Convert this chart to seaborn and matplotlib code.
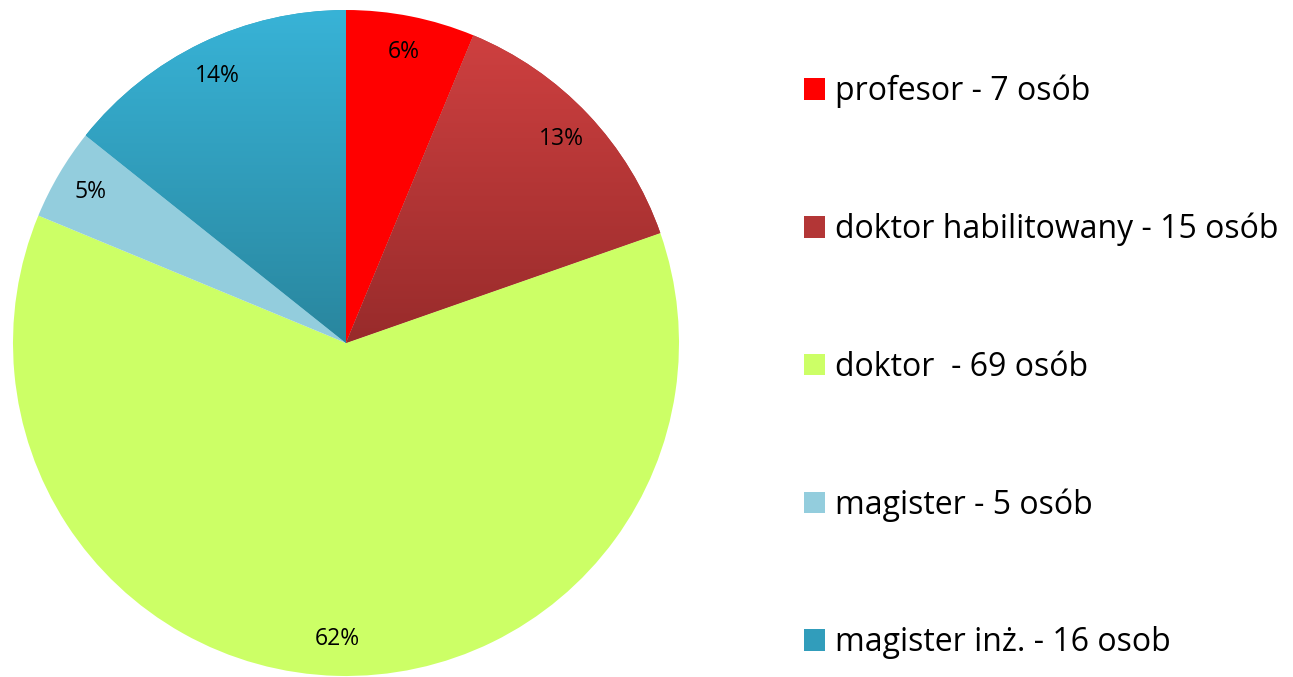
import numpy as np
import matplotlib
matplotlib.use("Agg")
import matplotlib.pyplot as plt
import seaborn as sns
from matplotlib.patches import Patch
from matplotlib.colors import to_rgb

categories = ["profesor - 7 osób", "doktor habilitowany - 15 osób", "doktor  - 69 osób",
              "magister - 5 osób", "magister inż. - 16 osob"]
counts = [7, 15, 69, 5, 16]
top_colors = ["#FF0000", "#CE4040", "#CCFF66", "#93CDDD", "#38B3D7"]
bottom_colors = ["#FF0000", "#982B2B", "#CCFF66", "#93CDDD", "#29869E"]

sns.set_theme(style="white")
plt.rcParams["font.family"] = ["Open Sans", "DejaVu Sans"]
plt.rcParams["text.color"] = "black"

# largest-remainder rounding so that percentages sum to 100
raw = np.array(counts, dtype=float) / sum(counts) * 100
pcts = np.floor(raw).astype(int)
rem = 100 - pcts.sum()
for i in np.argsort(-(raw - np.floor(raw)))[:rem]:
    pcts[i] += 1
pct_iter = iter(pcts)

W, H = 1293, 677
fig = plt.figure(figsize=(W / 100, H / 100), dpi=100)
cx, cy, r = 346, 343, 333
ax = fig.add_axes([(cx - r) / W, (H - cy - r) / H, 2 * r / W, 2 * r / H])

mid_colors = [tuple((np.array(to_rgb(a)) + np.array(to_rgb(b))) / 2) for a, b in zip(top_colors, bottom_colors)]

wedges, texts, autotexts = ax.pie(
    counts, colors=mid_colors, startangle=90, counterclock=False,
    autopct=lambda p: f"{next(pct_iter)}%", pctdistance=0.89,
    wedgeprops=dict(linewidth=0), textprops=dict(fontsize=16.5, color="black"))

for w, tc, bc in zip(wedges, top_colors, bottom_colors):
    if tc != bc:
        path = w.get_path().transformed(w.get_patch_transform())
        verts = path.vertices
        ymin, ymax = verts[:, 1].min(), verts[:, 1].max()
        xmin, xmax = verts[:, 0].min(), verts[:, 0].max()
        t = np.linspace(0, 1, 256)[:, None]
        c1 = np.array(to_rgb(tc)); c2 = np.array(to_rgb(bc))
        grad = (c1[None, :] * (1 - t) + c2[None, :] * t)[:, None, :]
        grad = np.repeat(grad, 2, axis=1)
        im = ax.imshow(grad, extent=[xmin, xmax, ymin, ymax], origin="upper",
                       aspect="auto", zorder=w.get_zorder() + 0.1, interpolation="bilinear")
        im.set_clip_path(w)

for t in autotexts:
    t.set_zorder(5)

ax.set_xlim(-1.0, 1.0)
ax.set_ylim(-1.0, 1.0)
ax.set_aspect("equal")
ax.axis("off")

handles = [Patch(facecolor=c, edgecolor="none") for c in mid_colors]
fig.legend(handles, categories, loc="center left",
           bbox_to_anchor=(804 / W, 1 - 367 / H), frameon=False, labelcolor="black",
           fontsize=23, handlelength=0.66, handleheight=0.66, handletextpad=0.31,
           labelspacing=3.27, borderaxespad=0, borderpad=0)

fig.savefig("out.png", dpi=100)
